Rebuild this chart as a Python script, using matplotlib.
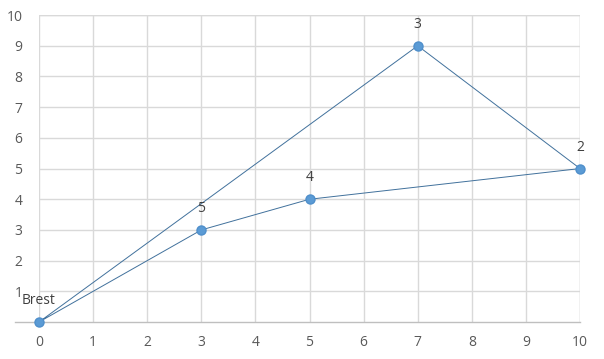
import matplotlib.pyplot as plt

# dados (ordem do traçado, caminho fechado)
xs = [0, 3, 5, 10, 7, 0]
ys = [0, 3, 4, 5, 9, 0]
rotulos = ['Brest', '5', '4', '2', '3']

x_ticks = list(range(0, 11))
y_ticks = list(range(1, 11))

plt.rcParams['font.family'] = ['Open Sans', 'DejaVu Sans']

fig = plt.figure(figsize=(6.04, 3.59), dpi=100)
ax = fig.add_axes([0.0646, 0.103, 0.8957, 0.855])

cor_txt = '#595959'
cor_grade = '#d9d9d9'

ax.set_xlim(0, 10)
ax.set_ylim(0, 10)
ax.set_xticks(x_ticks)
ax.set_yticks(y_ticks)
ax.grid(True, color=cor_grade, linewidth=1)
ax.set_axisbelow(True)
for s in ax.spines.values():
    s.set_visible(False)
ax.tick_params(length=0, labelsize=10, colors=cor_txt, pad=9)
ax.tick_params(axis='y', pad=12)
# linha do eixo x
ax.plot([-0.45, 10], [0, 0], color='#bfbfbf', linewidth=1, clip_on=False, zorder=1)
ax.axvline(10, color=cor_grade, linewidth=1, zorder=0)
ax.axhline(10, color=cor_grade, linewidth=1, zorder=0)

ax.plot(xs, ys, color='#41719c', linewidth=0.7, clip_on=False, zorder=3)
ax.plot(xs[:-1], ys[:-1], 'o', color='#5b9bd5', markersize=6.5,
        markeredgecolor='#4f8fcb', clip_on=False, zorder=4)

for x, y, r in zip(xs[:-1], ys[:-1], rotulos):
    ax.annotate(r, (x, y), xytext=(0, 10), textcoords='offset points',
                ha='center', va='bottom', fontsize=10, color='#404040')

fig.savefig('out.png', dpi=100, facecolor='white')
